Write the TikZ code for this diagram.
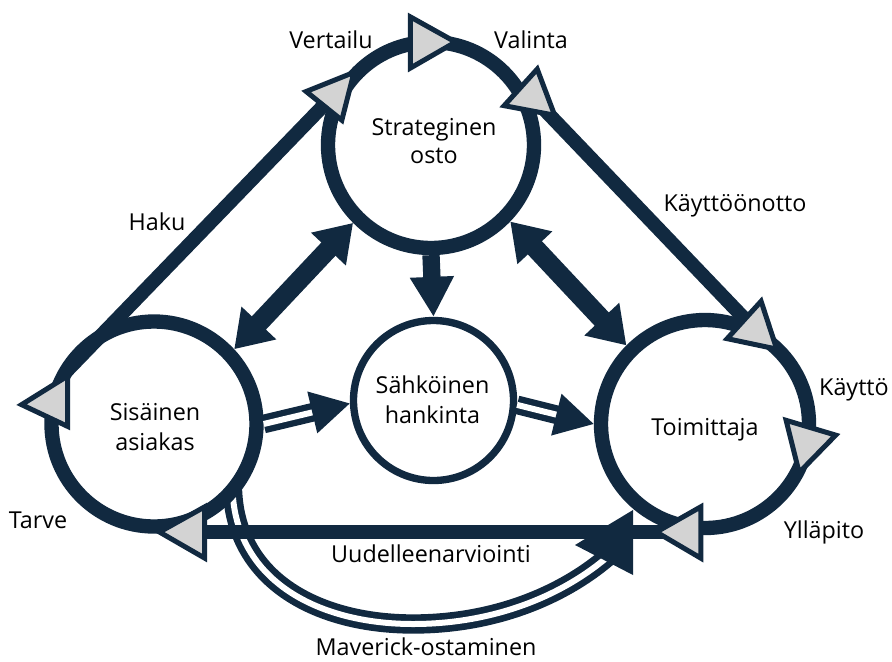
\documentclass[tikz,border=0pt]{standalone}
\usepackage{fontspec}
\setmainfont{Open Sans}
\usetikzlibrary{arrows.meta,calc,backgrounds}
\definecolor{navy}{HTML}{112940}
\definecolor{tgray}{HTML}{D3D3D3}
\newcommand\twoline[3][0pt]{\begin{tabular}[t]{@{}c@{}}#2\\[#1]#3\end{tabular}}
\begin{document}
\begin{tikzpicture}[x=0.75pt,y=-0.75pt,
  lbl/.style={font=\fontsize{17.5}{21}\selectfont, inner sep=0pt, anchor=base},
  ring/.style={circle, draw=navy, line width=10.75pt, inner sep=0pt},
  ringthin/.style={circle, draw=navy, line width=5.5pt, inner sep=0pt, minimum size=120pt},
  cyc/.style={draw=navy, line width=10.5pt},
  tri/.style={draw=navy, fill=tgray, line width=3.75pt, line join=miter},
  bigarrow/.style={draw=navy, line width=14.5pt,
     {Triangle[length=27pt,width=34pt]}-{Triangle[length=27pt,width=34pt]}},
  downarrow/.style={draw=navy, line width=13pt, -{Triangle[length=30pt,width=31pt]}},
  dblarrow/.style={draw=navy, double=white, line width=4.75pt, double distance=4.5pt,
     -{Triangle[length=29pt,width=31pt]}},
  dblcurve/.style={draw=navy, double=white, line width=5pt, double distance=4.5pt},
  mavhead/.style={fill=navy}]
\useasboundingbox (0,0) rectangle (892,661);

% circles
\node[ring, minimum size=154.5pt] (strat) at (431,145) {};
\node[ring, minimum size=153.75pt] (sis) at (154,424) {};
\node[ring, minimum size=156pt] (toim) at (705,424) {};
\node[ringthin] (sah) at (433.5,400.5) {};

% named points of the cycle
\coordinate (hakuS) at (65.7,372);
\coordinate (mavS) at (232.5,490);
\coordinate (mavB) at (413,624);
\coordinate (mavE) at (612,553);
\coordinate (tTop) at (425.33,42.33);
\coordinate (tVal) at (532,96.67);
\coordinate (tVert) at (334,94.67);
\coordinate (tKo) at (755,329.67);
\coordinate (tKa) at (807,442.67);
\coordinate (tYl) at (686,532.33);
\coordinate (tTa) at (189.67,532.33);
\coordinate (tLeft) at (52.33,402.33);

% Maverick curve behind the circles
\begin{scope}[on background layer]
\draw[dblcurve] (mavS) .. controls (236,582) and (320,624) .. (mavB)
   .. controls (495,624) and (565,595) .. (mavE);
\end{scope}

% inner arrows
\draw[bigarrow] (strat.225.7) -- (sis.43.9);
\draw[bigarrow] (strat.316.4) -- (toim.135);
\draw[downarrow] (strat.south) -- (sah.north);
\draw[dblarrow] (sis.east) -- (sah.182);
\draw[dblarrow] (sah.-3) -- (toim.west);

% cycle lines
\draw[cyc] (hakuS) -- (tVert);
\draw[cyc] (tVal) -- (tKo);
\draw[cyc] (tYl) -- (tTa);

% Maverick arrow head
\fill[mavhead] (575,545) -- (633,510) -- (633,575) -- cycle;

% cycle triangles
\draw[tri, scale around={0.87:(tTop)}] (460,42) -- (408,13) -- (408,72) -- cycle;
\draw[tri, scale around={0.87:(tVal)}] (558,118) -- (538,65) -- (500,107) -- cycle;
\draw[tri, scale around={0.87:(tVert)}] (357,69) -- (302,91) -- (343,124) -- cycle;
\draw[tri, scale around={0.87:(tKo)}] (780,352) -- (762,297) -- (723,340) -- cycle;
\draw[tri, scale around={0.87:(tKa)}] (798,477) -- (783,417) -- (840,434) -- cycle;
\draw[tri, scale around={0.87:(tYl)}] (652,532) -- (703,503) -- (703,562) -- cycle;
\draw[tri, scale around={0.87:(tTa)}] (155,532) -- (207,503) -- (207,562) -- cycle;
\draw[tri, scale around={0.87:(tLeft)}] (17,405) -- (70,372) -- (70,430) -- cycle;

% labels
\node[lbl] (lVert) at (331,48) {Vertailu};
\node[lbl] (lVal) at (531,48) {Valinta};
\node[lbl] (lStrat) at (434,135) {\twoline{Strateginen}{osto}};
\node[lbl] (lHaku) at (157,230) {Haku};
\node[lbl] (lKo) at (735,211) {Käyttöönotto};
\node[lbl] (lSis) at (155,420) {\twoline[1.5pt]{Sisäinen}{asiakas}};
\node[lbl] (lSah) at (432.5,393) {\twoline[1.5pt]{Sähköinen}{hankinta}};
\node[lbl] (lToim) at (705,435) {Toimittaja};
\node[lbl] (lKa) at (854,395) {Käyttö};
\node[lbl] (lYl) at (824,538) {Ylläpito};
\node[lbl] (lTa) at (38,528) {Tarve};
\node[lbl] (lUud) at (431,562) {Uudelleenarviointi};
\node[lbl] (lMav) at (426,655) {Maverick-ostaminen};
\end{tikzpicture}
\end{document}
